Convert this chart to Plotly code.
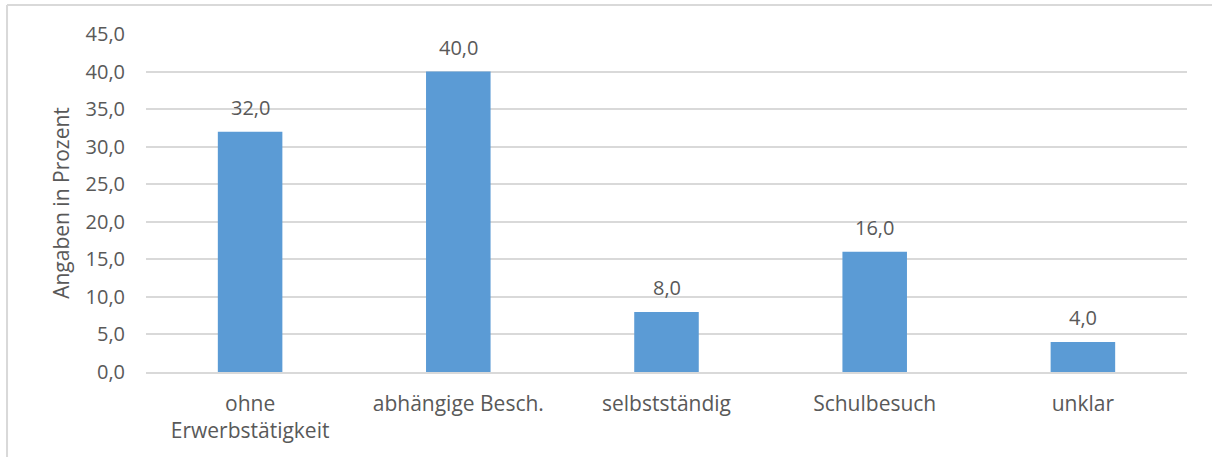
import plotly.graph_objects as go

categories = ["ohne<br>Erwerbstätigkeit", "abhängige Besch.", "selbstständig", "Schulbesuch", "unklar"]
values = [32.0, 40.0, 8.0, 16.0, 4.0]
y_ticks = [0, 5, 10, 15, 20, 25, 30, 35, 40, 45]

text_color = "#595959"
bar_color = "#5B9BD5"
grid_color = "#D9D9D9"
font_family = "Open Sans, Liberation Sans, sans-serif"
label_size = 20

fig = go.Figure()
fig.add_trace(go.Bar(
    x=categories,
    y=values,
    marker=dict(color=bar_color, line=dict(width=0)),
    hoverinfo="skip",
))

# value labels above each bar
for cat, val in zip(categories, values):
    fig.add_annotation(
        x=cat, y=val, xref="x", yref="y",
        text=f"{val:.1f}".replace(".", ","),
        showarrow=False, yanchor="bottom", yshift=9,
        font=dict(family=font_family, size=label_size, color=text_color),
    )

# light frame around the chart area
frame = dict(color=grid_color, width=2)
fig.add_shape(type="line", xref="paper", yref="paper", x0=-0.1335, x1=1.03,
              y0=1.0858, y1=1.0858, line=frame)
fig.add_shape(type="line", xref="paper", yref="paper", x0=-0.1335, x1=-0.1335,
              y0=1.0858, y1=-0.26, line=frame)

fig.update_layout(
    width=1212, height=457,
    margin=dict(l=146, r=25, t=34, b=85),
    paper_bgcolor="white", plot_bgcolor="white",
    separators=",.",
    bargap=0.69,
    showlegend=False,
    font=dict(family=font_family, size=label_size, color=text_color),
    xaxis=dict(
        showgrid=False, showline=True, linecolor=grid_color, linewidth=1.5,
        ticks="", ticklabelstandoff=12,
        tickfont=dict(family=font_family, size=21, color=text_color),
    ),
    yaxis=dict(
        range=[0, 45], tickvals=y_ticks, tickformat=".1f",
        showgrid=True, gridcolor=grid_color, gridwidth=1.5,
        zeroline=False, showline=False, ticks="", ticklabelstandoff=20,
        tickfont=dict(family=font_family, size=label_size, color=text_color),
        title=dict(text="Angaben in Prozent", standoff=10,
                   font=dict(family=font_family, size=21, color=text_color)),
    ),
)

fig.write_html("out.html")
